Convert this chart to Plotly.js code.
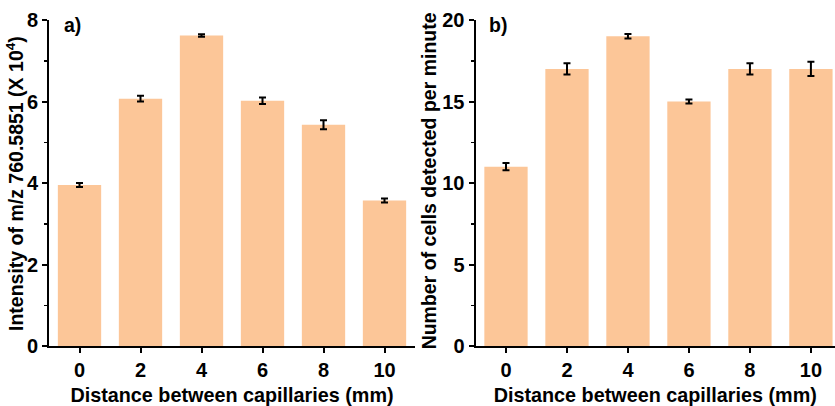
<!DOCTYPE html>
<html>
<head>
<meta charset="utf-8">
<script src="https://cdn.plot.ly/plotly-3.0.1.min.js"></script>
<style>html,body{margin:0;padding:0;background:#fff;}#chart{width:835px;height:406px;}</style>
</head>
<body>
<div id="chart"></div>
<script>
// Data
const distances = [0, 2, 4, 6, 8, 10];
const intensity = [3.95, 6.07, 7.62, 6.02, 5.43, 3.57];
const intensityErr = [0.05, 0.07, 0.03, 0.08, 0.11, 0.05];
const cellsPerMin = [11, 17, 19, 15, 17, 17];
const cellsErr = [0.22, 0.35, 0.14, 0.13, 0.35, 0.44];
const tickLabels = ['0', '2', '4', '6', '8', '10'];
const xTitle = 'Distance between capillaries (mm)';
const yTitleA = 'Intensity of m/z 760.5851 (X 10<sup>4</sup>)';
const yTitleB = 'Number of cells detected per minute';

const barColor = '#FCC698';
const fam = 'Liberation Sans, Arial, sans-serif';
const tickFont = {family: fam, size: 20, color: '#000', weight: 'bold'};
const titleFont = {family: fam, size: 19.5, color: '#000', weight: 'bold'};
const xTitleFont = {family: fam, size: 19.8, color: '#000', weight: 'bold'};

const traces = [
  {type: 'bar', x: distances, y: intensity, width: 1.42, xaxis: 'x', yaxis: 'y',
   marker: {color: barColor}, error_y: {type: 'data', array: intensityErr, color: '#000', thickness: 2, width: 3.5}},
  {type: 'bar', x: distances, y: cellsPerMin, width: 1.42, xaxis: 'x2', yaxis: 'y2',
   marker: {color: barColor}, error_y: {type: 'data', array: cellsErr, color: '#000', thickness: 2, width: 3.5}}
];

function xax(domain, range, anchor) {
  return {domain: domain, range: range, anchor: anchor, tickmode: 'array', tickvals: distances, ticktext: tickLabels,
    showline: true, linecolor: '#000', linewidth: 2, ticks: 'outside', ticklen: 5, tickwidth: 2, tickcolor: '#000',
    showgrid: false, zeroline: false, tickfont: tickFont, automargin: false,
    title: {text: xTitle, font: xTitleFont, standoff: 11}};
}
function yax(domain, range, dtick, minorDtick, anchor) {
  return {domain: domain, range: range, anchor: anchor, dtick: dtick, tick0: 0,
    showline: true, linecolor: '#000', linewidth: 2, ticks: 'outside', ticklen: 5, tickwidth: 2, tickcolor: '#000',
    minor: {dtick: minorDtick, ticks: 'outside', ticklen: 3, tickwidth: 1.5, tickcolor: '#000', showgrid: false},
    showgrid: false, zeroline: false, tickfont: tickFont, automargin: false};
}

const layout = {
  width: 835, height: 406,
  margin: {l: 0, r: 0, t: 20, b: 60},
  paper_bgcolor: '#fff', plot_bgcolor: 'rgba(0,0,0,0)',
  showlegend: false,
  xaxis: xax([49/835, 415/835], [-1, 11], 'y'),
  yaxis: yax([0, 1], [0, 8], 2, 1, 'x'),
  xaxis2: xax([475.5/835, 1], [-1, 10.79], 'y2'),
  yaxis2: yax([0, 1], [0, 20], 5, 2.5, 'x2'),
  annotations: [
    {text: yTitleA, xref: 'paper', yref: 'paper', x: 15/835, y: 0.497, xanchor: 'center', yanchor: 'middle', textangle: -90, showarrow: false, font: titleFont},
    {text: yTitleB, xref: 'paper', yref: 'paper', x: 429/835, y: 0.505, xanchor: 'center', yanchor: 'middle', textangle: -90, showarrow: false, font: titleFont},
    {text: 'a)', xref: 'paper', yref: 'paper', x: 62/835, y: 0.985, xanchor: 'left', yanchor: 'middle', showarrow: false, font: titleFont},
    {text: 'b)', xref: 'paper', yref: 'paper', x: 487/835, y: 0.985, xanchor: 'left', yanchor: 'middle', showarrow: false, font: titleFont}
  ]
};

Plotly.newPlot('chart', traces, layout, {displayModeBar: false, staticPlot: true});
</script>
</body>
</html>
